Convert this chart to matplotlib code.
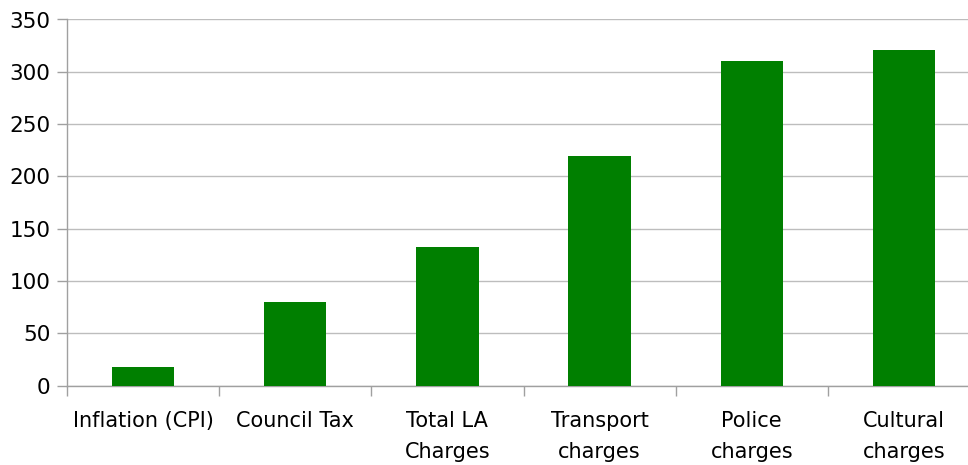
import matplotlib
matplotlib.use("Agg")
import matplotlib.pyplot as plt
import numpy as np

categories = ["Inflation (CPI)", "Council Tax", "Total LA\nCharges",
              "Transport\ncharges", "Police\ncharges", "Cultural\ncharges"]
values = [18, 80, 132, 219, 310, 321]
yticks = [0, 50, 100, 150, 200, 250, 300, 350]

plt.rcParams['font.family'] = ['DejaVu Sans']

fig = plt.figure(figsize=(9.68, 4.65), dpi=100)
ax = fig.add_axes([67 / 968, 79.5 / 465, 913 / 968, 366 / 465])

x = np.arange(len(categories))
ax.bar(x, values, width=0.41, color='#007f00', zorder=3)

ax.set_xlim(-0.5, len(categories) - 0.5)
ax.set_ylim(0, 350)
ax.set_yticks(yticks)
ax.set_yticklabels([str(t) for t in yticks], fontsize=15.5)
ax.yaxis.grid(True, color='#bdbdbd', linewidth=1.0, zorder=0)

# category labels centered under bars, ticks at category boundaries
ax.set_xticks(x)
ax.set_xticklabels(categories, fontsize=15, linespacing=1.72)
ax.tick_params(axis='x', which='major', length=0, pad=18)
ax.set_xticks(np.arange(len(categories) + 1) - 0.5, minor=True)
ax.tick_params(axis='x', which='minor', length=7, color='#a0a0a0', width=1.0)
ax.tick_params(axis='y', length=7, color='#a0a0a0', width=1.0, pad=5)

for side in ['top', 'right']:
    ax.spines[side].set_visible(False)
ax.spines['left'].set_color('#a0a0a0')
ax.spines['bottom'].set_color('#a0a0a0')
ax.spines['left'].set_linewidth(1.0)
ax.spines['bottom'].set_linewidth(1.0)

fig.savefig("out.png", dpi=100)
